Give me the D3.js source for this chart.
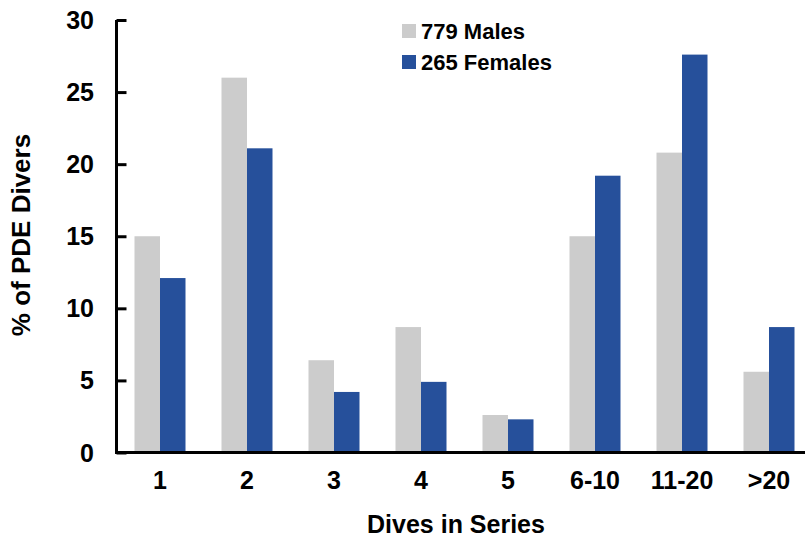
<!DOCTYPE html>
<html>
<head>
<meta charset="utf-8">
<script src="https://cdn.jsdelivr.net/npm/d3@7"></script>
<style>
  html, body { margin: 0; padding: 0; background: #fff; }
  svg { display: block; font-family: "Liberation Sans", Arial, Helvetica, sans-serif; font-weight: bold; }
</style>
</head>
<body>
<svg id="chart" width="805" height="539"></svg>
<script>
const categories = ["1", "2", "3", "4", "5", "6-10", "11-20", ">20"];
const males = [15.0, 26.0, 6.4, 8.7, 2.6, 15.0, 20.8, 5.6];
const females = [12.1, 21.1, 4.2, 4.9, 2.3, 19.2, 27.6, 8.7];
const seriesNames = ["779 Males", "265 Females"];
const seriesColors = ["#cccccc", "#26509b"];
const yTicks = [0, 5, 10, 15, 20, 25, 30];

(function () {
const svg = d3.select("#chart");
const pL = 116.5, pR = 812.5, pT = 20, pB = 452.5;

const x = d3.scaleBand().domain(categories).range([pL, pR]).paddingInner(0).paddingOuter(0);
const y = d3.scaleLinear().domain([0, 30]).range([pB, pT]);
const barW = 25.5;

const data = categories.map((c, i) => ({ c, vals: [males[i], females[i]] }));

const g = svg.append("g");
data.forEach(d => {
  d.vals.forEach((v, j) => {
    const cx = x(d.c) + x.bandwidth() / 2;
    g.append("rect")
      .attr("x", cx + (j === 0 ? -barW : 0))
      .attr("y", y(v))
      .attr("width", barW)
      .attr("height", y(0) - y(v))
      .attr("fill", seriesColors[j]);
  });
});

// Y axis
const yAxis = svg.append("g").attr("transform", `translate(${pL},0)`)
  .call(d3.axisRight(y).tickValues(yTicks).tickSize(10).tickFormat(""));
yAxis.select(".domain").attr("d", `M0,${pT}V${pB}`).attr("stroke", "#000").attr("stroke-width", 3);
yAxis.selectAll(".tick line").attr("stroke", "#000").attr("stroke-width", 3);

svg.append("g").selectAll("text").data(yTicks).join("text")
  .attr("x", 94).attr("y", d => y(d)).attr("dy", "0.36em")
  .attr("text-anchor", "end").attr("font-size", 25).attr("fill", "#000")
  .text(d => d);

// X axis line
svg.append("line").attr("x1", pL - 1.5).attr("x2", 805).attr("y1", pB).attr("y2", pB)
  .attr("stroke", "#000").attr("stroke-width", 3);

// X tick labels
const xAxis = svg.append("g").attr("transform", `translate(0,${pB})`)
  .call(d3.axisBottom(x).tickSize(0).tickPadding(0));
xAxis.select(".domain").remove();
xAxis.selectAll(".tick text")
  .attr("y", 36.5).attr("dy", 0)
  .attr("font-size", 25).attr("font-family", "Liberation Sans, Arial, sans-serif")
  .attr("font-weight", "bold").attr("fill", "#000");

// Axis titles
svg.append("text").attr("x", 456).attr("y", 533).attr("text-anchor", "middle")
  .attr("font-size", 25).attr("fill", "#000").text("Dives in Series");
svg.append("text").attr("transform", "translate(30,235) rotate(-90)").attr("text-anchor", "middle")
  .attr("font-size", 26).attr("fill", "#000").text("% of PDE Divers");

// Legend
const leg = svg.append("g");
seriesNames.forEach((n, i) => {
  const yy = 24 + i * 31;
  leg.append("rect").attr("x", 402).attr("y", yy).attr("width", 14).attr("height", 14).attr("fill", seriesColors[i]);
  leg.append("text").attr("x", 421).attr("y", yy + 14.5).attr("font-size", 22).attr("fill", "#000").text(n);
});
})();
</script>
</body>
</html>
